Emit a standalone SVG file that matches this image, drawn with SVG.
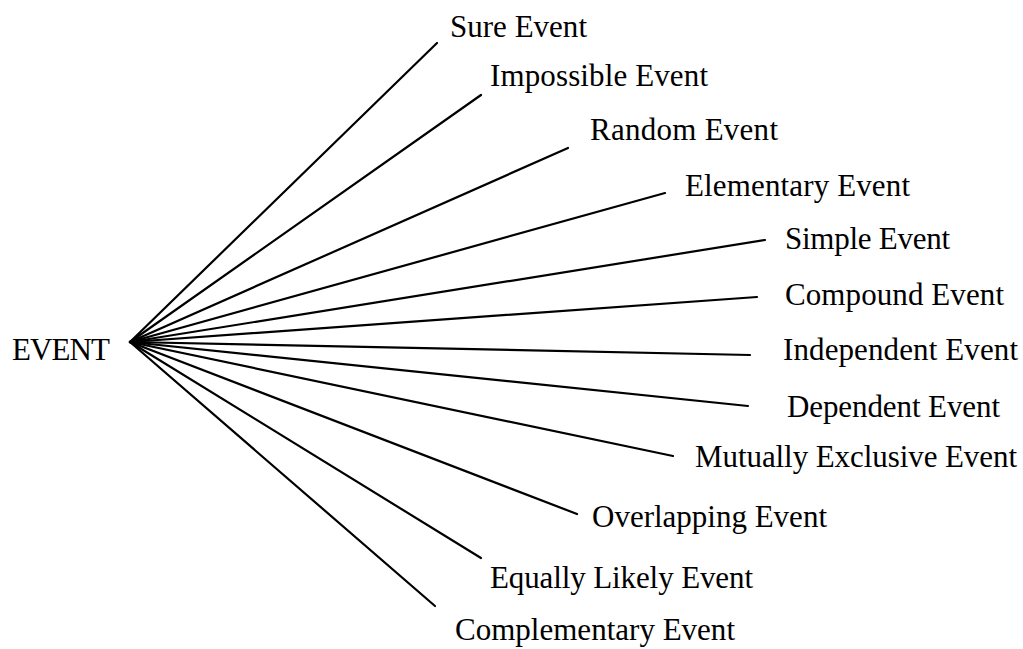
<svg xmlns="http://www.w3.org/2000/svg" width="1023" height="649" viewBox="0 0 1023 649">
<style>
  text { font-family: "Liberation Serif", "Times New Roman", serif; font-size: 31px; fill: #000; }
  .c line { stroke: #000; stroke-width: 2.2; stroke-linecap: round; }
</style>
<rect width="1023" height="649" fill="#fff"/>
<g id="connectors" class="c">
  <line x1="130" y1="342" x2="437" y2="43"/>
  <line x1="130" y1="342" x2="481" y2="95"/>
  <line x1="130" y1="342" x2="568" y2="148"/>
  <line x1="130" y1="342" x2="665" y2="193"/>
  <line x1="130" y1="342" x2="765" y2="240"/>
  <line x1="130" y1="342" x2="757" y2="297"/>
  <line x1="130" y1="342" x2="750" y2="355"/>
  <line x1="130" y1="342" x2="748" y2="406"/>
  <line x1="130" y1="342" x2="673" y2="456"/>
  <line x1="130" y1="342" x2="577" y2="514"/>
  <line x1="130" y1="342" x2="481" y2="558"/>
  <line x1="130" y1="342" x2="435" y2="606"/>
</g>
<g id="event"><text x="12" y="360" textLength="98">EVENT</text></g>
<g id="sure"><text x="450" y="37" textLength="137">Sure Event</text></g>
<g id="impossible"><text x="490" y="86" textLength="218">Impossible Event</text></g>
<g id="random"><text x="590" y="140" textLength="188">Random Event</text></g>
<g id="elementary"><text x="685" y="196" textLength="225">Elementary Event</text></g>
<g id="simple"><text x="785" y="249" textLength="165">Simple Event</text></g>
<g id="compound"><text x="785" y="305" textLength="219">Compound Event</text></g>
<g id="independent"><text x="783" y="360" textLength="235">Independent Event</text></g>
<g id="dependent"><text x="787" y="417" textLength="213">Dependent Event</text></g>
<g id="mutually"><text x="695" y="467" textLength="322">Mutually Exclusive Event</text></g>
<g id="overlapping"><text x="592" y="527" textLength="235">Overlapping Event</text></g>
<g id="equally"><text x="490" y="588" textLength="263">Equally Likely Event</text></g>
<g id="complementary"><text x="455" y="640" textLength="280">Complementary Event</text></g>
</svg>
